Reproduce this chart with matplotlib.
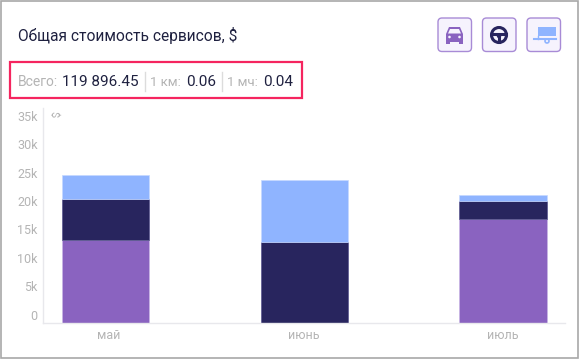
import matplotlib
matplotlib.use('Agg')
import matplotlib.pyplot as plt
from matplotlib.patches import FancyBboxPatch, Rectangle, Circle, Polygon
from matplotlib.transforms import ScaledTranslation

plt.rcParams['font.family'] = ['Roboto', 'DejaVu Sans']

months = ['май', 'июнь', 'июль']
car = [14.5, 0, 18.2]
driver = [7.2, 14.2, 3.2]
trailer = [4.2, 10.9, 1.0]
y_ticks = [0, 5, 10, 15, 20, 25, 30, 35]
y_labels = ['0', '5k', '10k', '15k', '20k', '25k', '30k', '35k']

PURPLE = '#8a63c0'
NAVY = '#28255e'
BLUE = '#8fb4ff'
GREY = '#b4b4b4'
INK = '#1f2140'
W, H = 579, 359

fig = plt.figure(figsize=(W / 100, H / 100), dpi=100)

# chart area, placed in pixels
left, right, top, bottom = 42.5, 565, 108, 322.5
ax = fig.add_axes([left / W, 1 - bottom / H, (right - left) / W, (bottom - top) / H])
x = range(len(months))
ax.bar(x, car, width=0.44, color=PURPLE, edgecolor='#c9b6e6', linewidth=0.5)
ax.bar(x, driver, width=0.44, bottom=car, color=NAVY, edgecolor='#5a5790', linewidth=0.5)
bot = [a + b for a, b in zip(car, driver)]
ax.bar(x, trailer, width=0.44, bottom=bot, color=BLUE, edgecolor='#c5d8ff', linewidth=0.5)
ax.set_xlim(-0.318, 2.313)
ax.set_ylim(0, (bottom - top) / 5.68)
ax.set_xticks(list(x))
ax.set_xticklabels(months, fontsize=9, color=GREY)
ax.set_yticks(y_ticks)
ax.set_yticklabels(y_labels, fontsize=9, color=GREY)
ax.tick_params(length=0, pad=5, axis='x')
ax.tick_params(length=0, pad=3.5, axis='y')
# the labels sit a little above their gridline position in the original
for lab in ax.get_yticklabels():
    lab.set_va('bottom')
# first month label is a bit right of its bar in the original
first = ax.get_xticklabels()[0]
first.set_transform(first.get_transform() + ScaledTranslation(3 / 100, 0, fig.dpi_scale_trans))
for s in ['top', 'right']:
    ax.spines[s].set_visible(False)
for s in ['left', 'bottom']:
    ax.spines[s].set_color('#e8e8ec')
    ax.spines[s].set_linewidth(1)

# overlay in pixel coords for header, icons and frame
ov = fig.add_axes([0, 0, 1, 1], zorder=5)
ov.set_xlim(0, W)
ov.set_ylim(H, 0)
ov.axis('off')
ov.add_patch(Rectangle((0.5, 0.5), W - 1.5, H - 1.5, fill=False, ec='#a8a8a8', lw=1.2))
ov.text(18, 35, 'Общая стоимость сервисов, $', fontsize=11.2, color=INK, va='center')
ov.add_patch(Rectangle((10, 62), 292, 36, fill=False, ec='#f5255f', lw=1.6))
ov.text(18, 82.5, 'Всего:', fontsize=10, color=GREY, va='center')
ov.text(62, 82.5, '119 896.45', fontsize=11, color=INK, va='center')
ov.text(150, 82.5, '1 км:', fontsize=9.5, color=GREY, va='center')
ov.text(186, 82.5, '0.06', fontsize=11, color=INK, va='center')
ov.text(227, 82.5, '1 мч:', fontsize=9.5, color=GREY, va='center')
ov.text(263, 82.5, '0.04', fontsize=11, color=INK, va='center')
for sx in [144.5, 221.5]:
    ov.plot([sx, sx], [72, 91], color='#dcdcdc', lw=1)
ov.text(54, 114, '$', fontsize=8, color=GREY, rotation=-90, ha='center', va='center')

for bx in [438, 482.5, 527]:
    ov.add_patch(FancyBboxPatch((bx, 18), 33.5, 33.5, boxstyle='round,pad=0,rounding_size=4',
                                fc='#f6f3fd', ec='#a88bd6', lw=1))

# car icon
ov.add_patch(Polygon([(449, 27), (460, 27), (463, 34), (463, 42), (446, 42), (446, 34)], fc=PURPLE, ec='none'))
ov.add_patch(Polygon([(450, 29), (459, 29), (461, 33.5), (448, 33.5)], fc='#f6f3fd', ec='none'))
ov.add_patch(Rectangle((446, 41), 4, 2.5, fc=PURPLE, ec='none'))
ov.add_patch(Rectangle((459, 41), 4, 2.5, fc=PURPLE, ec='none'))
ov.add_patch(Circle((449.5, 37), 1.3, fc='#f6f3fd', ec='none'))
ov.add_patch(Circle((459.5, 37), 1.3, fc='#f6f3fd', ec='none'))

# steering wheel icon
ov.add_patch(Circle((499, 35), 7.5, fc='none', ec=NAVY, lw=2.2))
ov.add_patch(Circle((499, 36), 2.2, fc=NAVY, ec='none'))
ov.plot([492, 506], [34, 34], color=NAVY, lw=2.2)
ov.plot([499, 499], [36, 42], color=NAVY, lw=2.2)

# trailer icon
ov.add_patch(Rectangle((538, 27), 18, 9, fc=BLUE, ec='none'))
ov.plot([534, 556], [39, 39], color=BLUE, lw=1.5)
ov.plot([538, 538], [36, 39], color=BLUE, lw=1)
ov.add_patch(Circle((547, 41), 2, fc='#f6f3fd', ec=BLUE, lw=1.2))

fig.savefig('out.png', dpi=100)
